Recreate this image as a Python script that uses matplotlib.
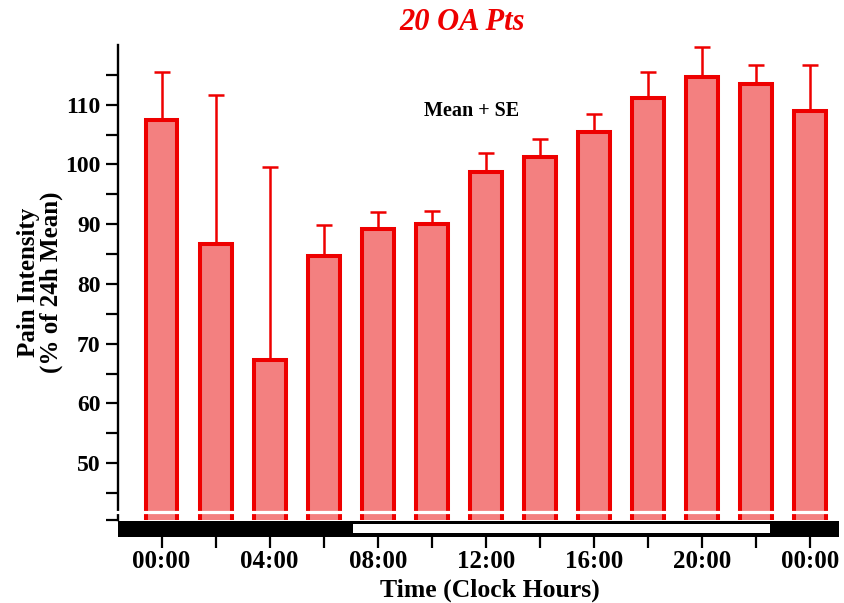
import numpy as np
import matplotlib.pyplot as plt
from matplotlib.ticker import FixedLocator

plt.rcParams['font.family'] = ['Liberation Serif', 'DejaVu Serif']
plt.rcParams['font.weight'] = 'bold'

hours = [0, 2, 4, 6, 8, 10, 12, 14, 16, 18, 20, 22, 24]
means = [107.5, 86.7, 67.3, 84.7, 89.2, 90.1, 98.8, 101.2, 105.4, 111.2, 114.7, 113.5, 108.9]
err_tops = [115.4, 111.6, 99.5, 89.9, 92.0, 92.2, 101.9, 104.3, 108.5, 115.4, 119.7, 116.7, 116.7]
tick_labels = ['00:00', '04:00', '08:00', '12:00', '16:00', '20:00', '00:00']
light_on, light_off = 7.1, 22.5

se = np.array(err_tops) - np.array(means)
red = '#ee0000'
fill = '#f38080'
xlim = (-1.61, 25.07)

fig = plt.figure(figsize=(8.44, 6.03), dpi=100)
ax = fig.add_axes([118/844, 83/603, 721/844, 475/603])

ax.errorbar(hours, means, yerr=[np.zeros(len(se)), se], fmt='none', ecolor=red,
            elinewidth=1.8, capsize=6, capthick=1.8, zorder=2)
ax.bar(hours, means, width=1.18, color=fill, edgecolor=red, linewidth=2.9, zorder=3)

ax.set_xlim(*xlim)
ax.set_ylim(40.5, 120)
ax.set_yticks(range(50, 111, 10))
ax.yaxis.set_minor_locator(FixedLocator([40.5] + list(range(45, 120, 10))))
ax.tick_params(axis='y', which='both', length=8.5, width=1.6, labelsize=17, pad=4)
ax.set_xticks([])
for s in ['top', 'right', 'bottom']:
    ax.spines[s].set_visible(False)
ax.spines['left'].set_linewidth(1.7)

# axis break
ax.axhline(41.84, xmin=-0.01, xmax=1.0, color='white', lw=2.3, zorder=10, clip_on=False)

fig.text(472/844, 1 - 111/603, 'Mean + SE', ha='center', va='center', fontsize=14.5)

# light / dark bar
bx = fig.add_axes([118/844, 66.5/603, 721/844, 15.5/603])
bx.set_facecolor('black')
bx.axvspan(light_on, light_off, ymin=0.2, ymax=0.83, color='white', lw=0)
bx.set_xlim(*xlim)
bx.set_ylim(0, 1)
bx.set_yticks([])
bx.set_xticks(range(0, 25, 4))
bx.set_xticklabels(tick_labels)
bx.set_xticks(range(2, 23, 4), minor=True)
bx.tick_params(axis='x', which='both', direction='out', length=8, width=1.6, labelsize=18, pad=2)
for s in bx.spines.values():
    s.set_visible(False)

fig.text(462/844, 1 - 22/603, '20 OA Pts', color=red, fontsize=22, style='italic',
         ha='center', va='center')
fig.text(490/844, 1 - 590/603, 'Time (Clock Hours)', fontsize=18.5, ha='center', va='center')
fig.text(40/844, 1 - 282/603, 'Pain Intensity\n(% of 24h Mean)', fontsize=18, rotation=90,
         ha='center', va='center', multialignment='center', linespacing=1.0)

fig.savefig('out.png', dpi=100)
